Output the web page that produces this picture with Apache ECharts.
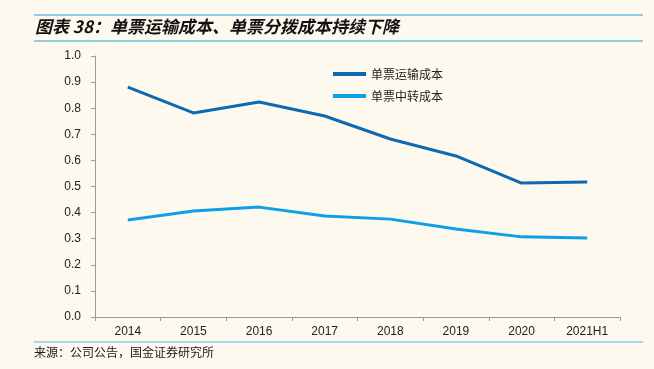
<!DOCTYPE html>
<html><head><meta charset="utf-8">
<script src="https://cdn.jsdelivr.net/npm/echarts@6/dist/echarts.min.js"></script>
<style>html,body{margin:0;padding:0;background:#fdf9ef;}#c{width:654px;height:369px;}</style>
</head><body><div id="c"></div>
<script>
const categories = ['2014','2015','2016','2017','2018','2019','2020','2021H1'];
const transportCost = [0.881, 0.782, 0.824, 0.770, 0.682, 0.617, 0.513, 0.517];
const transferCost = [0.372, 0.406, 0.421, 0.387, 0.375, 0.337, 0.307, 0.303];
const seriesNames = ['单票运输成本', '单票中转成本'];
const titleText = '图表 38：单票运输成本、单票分拨成本持续下降';
const sourceText = '来源：公司公告，国金证券研究所';

const chart = echarts.init(document.getElementById('c'));
chart.setOption({
  backgroundColor: '#fdf9ef',
  animation: false,
  grid: {left: 95, right: 34, top: 56, bottom: 52},
  legend: {
    orient: 'vertical', left: 328, top: 63, itemWidth: 33, itemHeight: 4, itemGap: 10,
    icon: 'rect',
    textStyle: {fontSize: 12, color: '#222', fontFamily: 'Noto Sans CJK SC'},
    data: seriesNames
  },
  xAxis: {
    type: 'category', data: categories, boundaryGap: true,
    axisLine: {lineStyle: {color: '#9a9a9a', width: 1}},
    axisTick: {show: true, length: 4, lineStyle: {color: '#9a9a9a'}},
    axisLabel: {fontSize: 12, color: '#222', fontFamily: 'Liberation Sans', margin: 9}
  },
  yAxis: {
    type: 'value', min: 0, max: 1, interval: 0.1,
    axisLine: {show: true, lineStyle: {color: '#9a9a9a', width: 1}},
    axisTick: {show: true, length: 4, lineStyle: {color: '#9a9a9a'}},
    splitLine: {show: false},
    axisLabel: {fontSize: 12, color: '#222', fontFamily: 'Liberation Sans', margin: 14,
      formatter: v => v.toFixed(1)}
  },
  series: [
    {name: seriesNames[0], type: 'line', data: transportCost, symbol: 'none',
     lineStyle: {color: '#0e69b3', width: 3}, itemStyle: {color: '#0e69b3'}},
    {name: seriesNames[1], type: 'line', data: transferCost, symbol: 'none',
     lineStyle: {color: '#0ca0e6', width: 3}, itemStyle: {color: '#0ca0e6'}}
  ],
  graphic: [
    {type: 'line', shape: {x1: 34, y1: 15, x2: 643, y2: 15}, style: {stroke: '#8fcbe8', lineWidth: 2}},
    {type: 'line', shape: {x1: 34, y1: 41, x2: 643, y2: 41}, style: {stroke: '#8fcbe8', lineWidth: 2}},
    {type: 'text', left: 35, top: 18, style: {text: titleText, fontSize: 17, fontWeight: 'bold', fontStyle: 'italic', fill: '#111', fontFamily: 'Noto Sans CJK SC'}},
    {type: 'line', shape: {x1: 34, y1: 342, x2: 643, y2: 342}, style: {stroke: '#8fcbe8', lineWidth: 1.5}},
    {type: 'text', left: 34, top: 346, style: {text: sourceText, fontSize: 12, fill: '#222', fontFamily: 'Noto Sans CJK SC'}}
  ]
});
</script></body></html>
